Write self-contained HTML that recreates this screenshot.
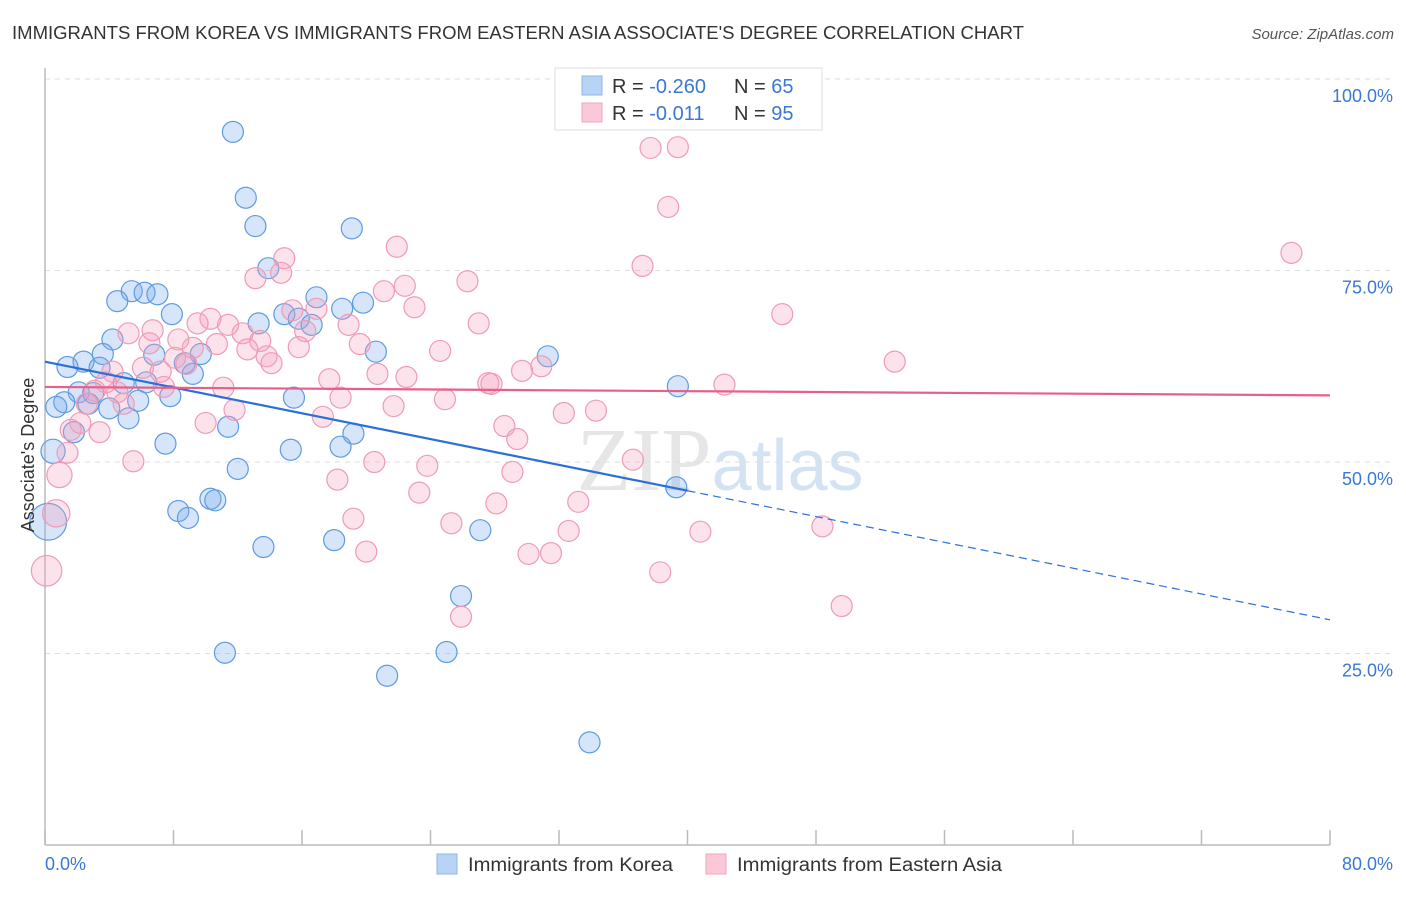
<!DOCTYPE html>
<html><head><meta charset="utf-8"><style>
body{margin:0;background:#fff;width:1406px;height:892px;overflow:hidden;font-family:"Liberation Sans",sans-serif}
</style></head><body>
<svg id="chart" width="1406" height="892" xmlns="http://www.w3.org/2000/svg" font-family="Liberation Sans, sans-serif">
<text x="12" y="39" font-size="18" fill="#333" textLength="1012" lengthAdjust="spacingAndGlyphs">IMMIGRANTS FROM KOREA VS IMMIGRANTS FROM EASTERN ASIA ASSOCIATE'S DEGREE CORRELATION CHART</text>
<text x="1394" y="39" font-size="15" fill="#555" font-style="italic" text-anchor="end">Source: ZipAtlas.com</text>
<text x="720" y="490" font-size="90" text-anchor="middle" fill="#e6e6e6" font-family="Liberation Serif, serif">ZIP<tspan fill="#d4e3f4" font-family="Liberation Sans, sans-serif" font-size="72">atlas</tspan></text>
<g id="grid"></g>
<g id="axes"></g>
<g id="points"></g>
<g id="trends"></g>
<text transform="translate(34,455) rotate(-90)" font-size="18" fill="#333" text-anchor="middle">Associate's Degree</text>
<g>
<rect x="555" y="68" width="267" height="62" fill="#fff" stroke="#ddd"/>
<rect x="582" y="76" width="20" height="19" fill="#b9d3f5" stroke="#8db6ea"/>
<rect x="582" y="103" width="20" height="19" fill="#fbc8d7" stroke="#f3a3bc"/>
<text x="612" y="93" font-size="20" fill="#333">R = <tspan fill="#3a78d4">-0.260</tspan></text>
<text x="734" y="93" font-size="20" fill="#333">N = <tspan fill="#3a78d4">65</tspan></text>
<text x="612" y="120" font-size="20" fill="#333">R = <tspan fill="#3a78d4"> -0.011</tspan></text>
<text x="734" y="120" font-size="20" fill="#333">N = <tspan fill="#3a78d4">95</tspan></text>
</g>
<g>
<rect x="437" y="854" width="20" height="20" fill="#b9d3f5" stroke="#8db6ea"/>
<text x="468" y="871" font-size="19" fill="#333" textLength="205" lengthAdjust="spacingAndGlyphs">Immigrants from Korea</text>
<rect x="706" y="854" width="20" height="20" fill="#fbc8d7" stroke="#f3a3bc"/>
<text x="737" y="871" font-size="19" fill="#333" textLength="265" lengthAdjust="spacingAndGlyphs">Immigrants from Eastern Asia</text>
</g>
</svg>
<script>
const xTicks=[0,10,20,30,40,50,60,70,80];
const yTicks=[25,50,75,100];
const yTickLabels=["25.0%","50.0%","75.0%","100.0%"];
const koreaX=[11.7,12.5,13.1,19.1,13.9,5.4,6.2,7.0,4.5,16.9,19.8,18.5,7.9,14.9,15.8,13.3,16.6,4.2,3.6,6.8,9.7,20.6,31.3,2.4,1.4,3.4,8.7,9.2,4.9,6.3,39.4,2.1,3.0,7.8,5.8,15.5,1.2,2.7,0.7,4.0,5.2,11.4,1.8,19.2,7.5,18.4,15.3,0.5,12.0,39.3,10.3,10.6,8.3,8.9,0.2,27.1,18.0,13.6,25.9,11.2,25.0,21.3,33.9];
const koreaY=[93.1,84.5,80.8,80.5,75.3,72.3,72.1,71.9,71.0,71.5,70.8,70.0,69.3,69.3,68.7,68.1,67.9,66.0,64.1,64.0,64.1,64.4,63.8,63.1,62.4,62.3,62.9,61.5,60.3,60.4,59.9,59.1,59.0,58.6,58.0,58.4,57.8,57.6,57.2,57.0,55.7,54.6,53.9,53.7,52.4,52.0,51.6,51.4,49.1,46.7,45.2,45.0,43.6,42.7,42.2,41.1,39.8,38.9,32.5,25.1,25.2,22.1,13.4];
const koreaSize=[1,1,1,1,1,1,1,1,1,1,1,1,1,1,1,1,1,1,1,1,1,1,1,1,1,1,1,1,1,1,1,1,1,1,1,1,1,1,1,1,1,1,1,1,1,1,1,1.15,1,1,1,1,1,1,1.75,1,1,1,1,1,1,1,1];
const asiaX=[37.7,39.4,38.8,77.6,21.9,14.9,37.2,14.7,13.1,26.3,22.4,21.1,23.0,15.4,16.9,45.9,10.3,9.5,11.4,27.0,18.9,6.7,5.2,12.3,16.2,8.3,6.5,13.4,10.7,19.6,15.8,12.6,9.2,24.6,8.1,13.8,14.1,8.8,52.9,30.9,6.1,4.2,29.7,7.2,20.7,22.5,3.8,17.7,27.6,27.8,42.3,7.4,11.1,3.1,4.5,24.9,18.4,4.9,2.6,11.8,21.7,32.3,34.3,17.3,10.0,2.2,28.6,1.6,3.4,29.4,1.4,5.5,20.5,36.6,23.8,29.1,0.9,18.2,23.3,33.2,28.1,0.7,19.2,25.3,48.4,32.6,40.8,20.0,30.1,31.5,0.1,38.3,49.6,25.9];
const asiaY=[91.0,91.1,83.3,77.3,78.1,76.6,75.6,74.7,74.0,73.6,73.0,72.3,70.2,69.8,70.0,69.3,68.7,68.1,67.9,68.1,67.9,67.2,66.8,66.8,67.1,66.0,65.5,65.8,65.4,65.4,65.0,64.7,64.9,64.5,63.6,63.8,62.9,62.8,63.1,62.5,62.3,61.8,61.9,61.8,61.5,61.1,60.4,60.8,60.3,60.2,60.1,59.8,59.7,59.3,59.1,58.2,58.4,57.6,57.6,56.8,57.3,56.4,56.7,55.9,55.1,55.1,54.7,54.2,53.9,53.0,51.2,50.1,50.0,50.3,49.5,48.7,48.3,47.7,46.0,44.8,44.6,43.3,42.6,42.0,41.6,41.0,40.9,38.3,38.0,38.1,35.8,35.6,31.2,29.8];
const asiaBig={76:1.2,81:1.3,90:1.45};
const koreaTrend=[63.1,29.4], koreaSolidEnd=40;
const asiaTrend=[59.8,58.7];
const NS='http://www.w3.org/2000/svg';
const X=v=>45+v/80*1285, Y=v=>845-v/100*766;
function mk(tag,attrs,parent){const e=document.createElementNS(NS,tag);for(const k in attrs)e.setAttribute(k,attrs[k]);parent.appendChild(e);return e;}
const grid=document.getElementById('grid'),axes=document.getElementById('axes'),pts=document.getElementById('points'),tr=document.getElementById('trends');
yTicks.forEach((t,i)=>{
 const l=mk('line',{x1:45,x2:1393,y1:Y(t),y2:Y(t),stroke:'#ddd','stroke-dasharray':'5,5'},grid);
 
 
 const tx=mk('text',{x:1393,y:Y(t)+23,'font-size':18,fill:'#3a78d4','text-anchor':'end'},axes);
 tx.textContent=yTickLabels[i];
 
 
});
const ax=mk('line',{x1:45,x2:1330,y1:845,y2:845,stroke:'#bbb','stroke-width':1.5},axes);


const ay=mk('line',{x1:45,x2:45,y1:68,y2:845,stroke:'#bbb','stroke-width':1.5},axes);


for(let v=0;v<=80;v+=8){const t=mk('line',{x1:X(v),x2:X(v),y1:830,y2:845,stroke:'#bbb','stroke-width':1.5},axes);
 
 }
[[0,'0.0%','start',45],[80,'80.0%','end',1393]].forEach(a=>{const t=mk('text',{x:a[3],y:870,'font-size':18,fill:'#3a78d4','text-anchor':a[2]},axes);t.textContent=a[1];
 
 });
koreaX.forEach((x,i)=>{const c=mk('circle',{cx:X(x),cy:Y(koreaY[i]),r:10.5*koreaSize[i],fill:'rgba(120,170,235,0.3)',stroke:'#5d9be0','stroke-width':1.2},pts);
 
 });
asiaX.forEach((x,i)=>{const c=mk('circle',{cx:X(x),cy:Y(asiaY[i]),r:10.5*(asiaBig[i]||1),fill:'rgba(244,160,190,0.3)',stroke:'#ef9ab6','stroke-width':1.2},pts);
 
 });
const kAt=v=>koreaTrend[0]+(koreaTrend[1]-koreaTrend[0])*v/80;
const k1=mk('line',{x1:X(0),y1:Y(kAt(0)),x2:X(koreaSolidEnd),y2:Y(kAt(koreaSolidEnd)),stroke:'#2c6fd6','stroke-width':2.2},tr);


const k2=mk('line',{x1:X(koreaSolidEnd),y1:Y(kAt(koreaSolidEnd)),x2:X(80),y2:Y(kAt(80)),stroke:'#2c6fd6','stroke-width':1.2,'stroke-dasharray':'8,5'},tr);


const a1=mk('line',{x1:X(0),y1:Y(asiaTrend[0]),x2:X(80),y2:Y(asiaTrend[1]),stroke:'#e8608a','stroke-width':2.2},tr);


</script>
</body></html>
